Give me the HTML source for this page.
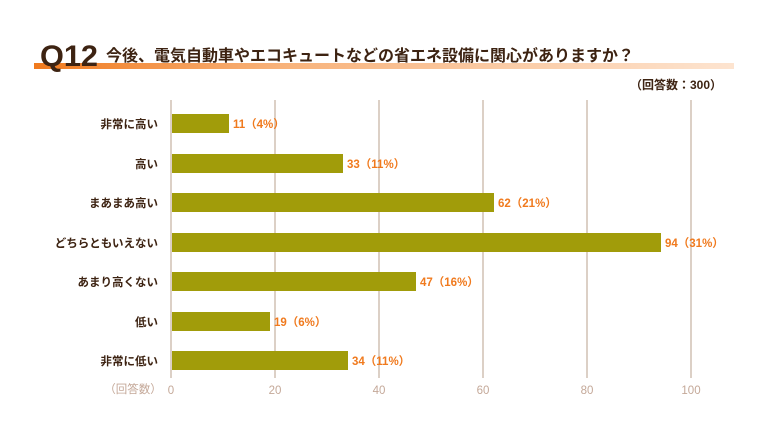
<!DOCTYPE html>
<html><head><meta charset="utf-8"><style>
body{margin:0;width:768px;height:432px;background:#fff;overflow:hidden;font-family:"Liberation Sans","Noto Sans CJK JP",sans-serif;}
</style></head><body>
<svg width="768" height="432" xmlns="http://www.w3.org/2000/svg" style="font-family:'Liberation Sans','Noto Sans CJK JP',sans-serif">
<defs><linearGradient id="g" x1="0" x2="1"><stop offset="0" stop-color="#f07a1e"/><stop offset="0.35" stop-color="#f8b27a"/><stop offset="1" stop-color="#fde4d0"/></linearGradient></defs>
<rect x="34" y="63" width="700" height="6" fill="url(#g)"/>
<text x="40" y="66" font-size="30" font-weight="bold" fill="#3d2312" textLength="58" lengthAdjust="spacingAndGlyphs">Q12</text>
<text x="106" y="61" font-size="16" font-weight="bold" fill="#3d2312">今後、電気自動車やエコキュートなどの省エネ設備に関心がありますか？</text>
<text x="722" y="89" font-size="12" font-weight="bold" fill="#3d2312" text-anchor="end">（回答数：300）</text>
<g stroke="#dcd0c6" stroke-width="2">
<line x1="171" y1="100" x2="171" y2="378"/><line x1="275" y1="100" x2="275" y2="378"/><line x1="379" y1="100" x2="379" y2="378"/><line x1="483" y1="100" x2="483" y2="378"/><line x1="587" y1="100" x2="587" y2="378"/><line x1="691" y1="100" x2="691" y2="378"/>
</g>
<g font-size="11.5" fill="#c4a898" text-anchor="middle">
<text x="171" y="394">0</text><text x="275" y="394">20</text><text x="379" y="394">40</text><text x="483" y="394">60</text><text x="587" y="394">80</text><text x="691" y="394">100</text>
<text x="133" y="393">（回答数）</text>
</g>
<g fill="#a19c0a">
<rect x="172" y="114" width="57" height="19"/>
<rect x="172" y="154" width="171" height="19"/>
<rect x="172" y="193" width="322" height="19"/>
<rect x="172" y="233" width="489" height="19"/>
<rect x="172" y="272" width="244" height="19"/>
<rect x="172" y="312" width="98" height="19"/>
<rect x="172" y="351" width="176" height="19"/>
</g>
<g font-size="11.5" font-weight="bold" fill="#3d2312" text-anchor="end">
<text x="158" y="128">非常に高い</text>
<text x="158" y="168">高い</text>
<text x="158" y="207">まあまあ高い</text>
<text x="158" y="247">どちらともいえない</text>
<text x="158" y="286">あまり高くない</text>
<text x="158" y="326">低い</text>
<text x="158" y="365">非常に低い</text>
</g>
<g font-size="11.5" font-weight="bold" fill="#f07a1e">
<text x="233" y="128">11（4%）</text>
<text x="347" y="168">33（11%）</text>
<text x="498" y="207">62（21%）</text>
<text x="665" y="247">94（31%）</text>
<text x="420" y="286">47（16%）</text>
<text x="274" y="326">19（6%）</text>
<text x="352" y="365">34（11%）</text>
</g>
</svg>
</body></html>
